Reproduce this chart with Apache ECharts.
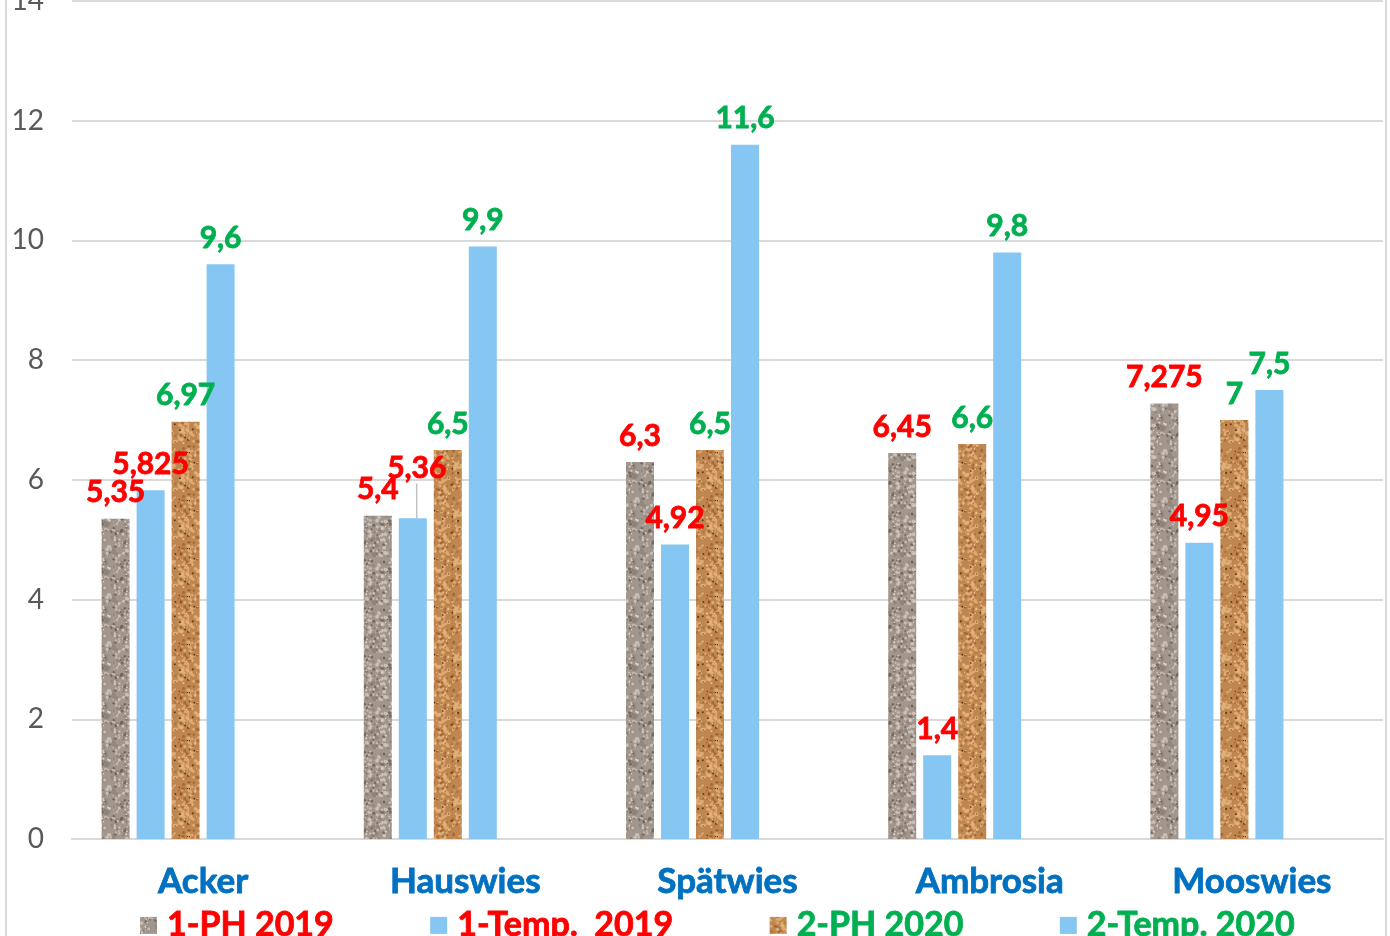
<!DOCTYPE html>
<html>
<head>
<meta charset="utf-8">
<script src="https://cdn.jsdelivr.net/npm/echarts@6/dist/echarts.min.js"></script>
<style>
  html, body { margin: 0; padding: 0; background: #fff; }
  #chart { width: 1390px; height: 936px; }
</style>
</head>
<body>
<div id="chart"></div>
<script>
// data
const categories = ['Acker', 'Hauswies', 'Spätwies', 'Ambrosia', 'Mooswies']
const seriesNames = ['1-PH 2019', '1-Temp.  2019', '2-PH 2020', '2-Temp. 2020']
const ph2019 = [5.35, 5.4, 6.3, 6.45, 7.275]
const temp2019 = [5.825, 5.36, 4.92, 1.4, 4.95]
const ph2020 = [6.97, 6.5, 6.5, 6.6, 7]
const temp2020 = [9.6, 9.9, 11.6, 9.8, 7.5]
const yTicks = [0, 2, 4, 6, 8, 10, 12, 14]

const RED = '#FF0000'
const GREEN = '#00B050'
const BLUE = '#0070C0'
const FONT = 'Lato, "DejaVu Sans", sans-serif'

// simple seeded noise so the texture is stable between runs
function lcg(seed) {
  let s = seed
  return () => {
    s = (s * 1664525 + 1013904223) % 4294967296
    return s / 4294967296
  }
}

// granite / cork fill like the excel textures
function makeTexture(base, spots, seed) {
  const c = document.createElement('canvas')
  c.width = 48
  c.height = 48
  const ctx = c.getContext('2d')
  ctx.fillStyle = base
  ctx.fillRect(0, 0, 48, 48)
  const rnd = lcg(seed)
  spots.forEach(sp => {
    for (let i = 0; i < sp.n; i++) {
      const x = rnd() * 48
      const y = rnd() * 48
      const r = sp.r[0] + rnd() * (sp.r[1] - sp.r[0])
      ctx.fillStyle = sp.c
      ctx.globalAlpha = sp.a
      for (let dx = -48; dx <= 48; dx += 48) {
        for (let dy = -48; dy <= 48; dy += 48) {
          ctx.beginPath()
          ctx.arc(x + dx, y + dy, r, 0, Math.PI * 2)
          ctx.fill()
        }
      }
    }
  })
  ctx.globalAlpha = 1
  return c
}

const graniteTex = makeTexture('#A3978D', [
  {c: '#8A7F76', n: 60, r: [1.2, 2.6], a: 0.6},
  {c: '#CFC8C0', n: 80, r: [0.9, 2.0], a: 0.8},
  {c: '#655B54', n: 55, r: [0.6, 1.5], a: 0.75},
  {c: '#E6E1DC', n: 30, r: [0.5, 1.0], a: 0.9}
], 7)

const corkTex = makeTexture('#C08650', [
  {c: '#E3B47C', n: 110, r: [0.9, 2.1], a: 0.8},
  {c: '#9A6030', n: 55, r: [0.7, 1.6], a: 0.7},
  {c: '#5A2E12', n: 25, r: [0.5, 1.1], a: 0.9},
  {c: '#F0CFA0', n: 30, r: [0.5, 1.0], a: 0.9}
], 13)

const fmt = (p) => String(p.value).replace('.', ',')

// heavier text: bold plus a thin outline in the same colour
const heavy = (color, size) => ({
  color: color,
  fontFamily: FONT,
  fontWeight: 'bold',
  fontSize: size,
  textBorderColor: color,
  textBorderWidth: 0.8
})

const labelOf = (color) => Object.assign({
  show: true,
  position: 'top',
  distance: 11,
  formatter: fmt
}, heavy(color, 30))

const barBase = {
  type: 'bar',
  barWidth: 28,
  barGap: '25%',
  silent: true
}

const chart = echarts.init(document.getElementById('chart'))

chart.setOption({
  animation: false,
  backgroundColor: '#fff',
  grid: {left: 72, right: 7, top: 1, bottom: 97, outerBoundsMode: 'none', containLabel: false},
  legend: {
    data: [
      {name: seriesNames[0], textStyle: heavy(RED, 34)},
      {name: seriesNames[1], textStyle: heavy(RED, 34)},
      {name: seriesNames[2], textStyle: heavy(GREEN, 34)},
      {name: seriesNames[3], textStyle: heavy(GREEN, 34)}
    ],
    left: 140,
    top: 908,
    padding: 0,
    icon: 'rect',
    itemWidth: 17,
    itemHeight: 17,
    itemGap: 96,
    textStyle: {fontFamily: FONT, fontWeight: 'bold', fontSize: 34, padding: [0, 0, 0, 5]}
  },
  xAxis: {
    type: 'category',
    data: categories,
    axisTick: {show: false},
    axisLine: {lineStyle: {color: '#D9D9D9', width: 2}},
    axisLabel: Object.assign({margin: 25}, heavy(BLUE, 35))
  },
  yAxis: {
    type: 'value',
    min: yTicks[0],
    max: yTicks[yTicks.length - 1],
    interval: 2,
    axisLine: {show: false},
    axisTick: {show: false},
    splitLine: {lineStyle: {color: '#D9D9D9', width: 2}},
    axisLabel: {color: '#595959', fontFamily: FONT, fontSize: 28, margin: 28}
  },
  labelLayout: (params) => {
    // 5,36 sits above its neighbour with a leader line
    if (params.seriesIndex === 1 && params.dataIndex === 1) {
      return {dx: 4, dy: -24}
    }
  },
  series: [
    Object.assign({}, barBase, {
      name: seriesNames[0],
      data: ph2019,
      itemStyle: {color: {image: graniteTex, repeat: 'repeat'}},
      label: labelOf(RED)
    }),
    Object.assign({}, barBase, {
      name: seriesNames[1],
      data: temp2019.map((v, i) => i === 1 ? {value: v, labelLine: {show: true}} : v),
      itemStyle: {color: '#85C6F2'},
      label: labelOf(RED),
      labelLine: {show: false, lineStyle: {color: '#A6A6A6', width: 1}}
    }),
    Object.assign({}, barBase, {
      name: seriesNames[2],
      data: ph2020,
      itemStyle: {color: {image: corkTex, repeat: 'repeat'}},
      label: labelOf(GREEN)
    }),
    Object.assign({}, barBase, {
      name: seriesNames[3],
      data: temp2020,
      itemStyle: {color: '#85C6F2'},
      label: labelOf(GREEN)
    }),
    // two empty slots, the original chart reserves room for them
    Object.assign({}, barBase, {name: 'leer1', data: []}),
    Object.assign({}, barBase, {name: 'leer2', data: []})
  ],
  graphic: [{
    type: 'rect',
    silent: true,
    z: -1,
    shape: {x: 6, y: -10, width: 1380, height: 1000},
    style: {fill: 'none', stroke: '#D9D9D9', lineWidth: 2}
  }]
})
</script>
</body>
</html>
